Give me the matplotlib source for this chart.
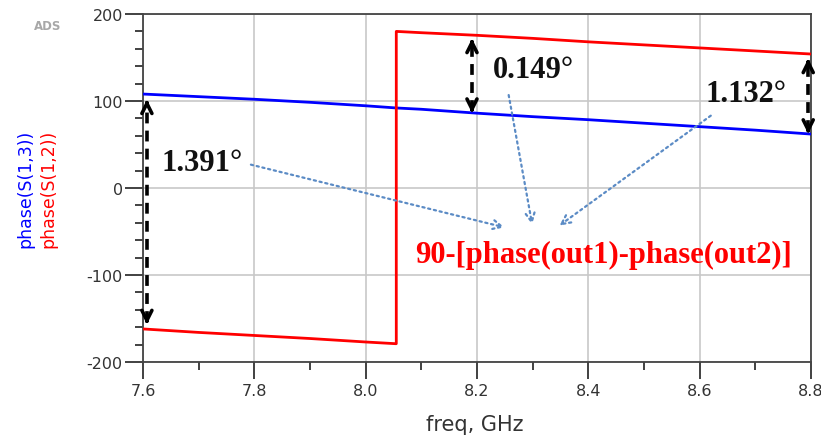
import matplotlib
matplotlib.use("Agg")
import matplotlib.pyplot as plt
import numpy as np

# ---- data ----
freq = [7.6, 7.7, 7.8, 7.9, 8.0, 8.055, 8.055, 8.1, 8.2, 8.3, 8.4, 8.5, 8.6, 8.7, 8.8]
phase_s13 = [108, 105, 102, 98.5, 94.5, 92, 92, 90.5, 86, 82, 78.5, 74.5, 70.5, 66.5, 62]
phase_s12 = [-162, -166, -169.5, -173, -177, -179, 180, 178.5, 175.5, 172, 168, 164.5, 161, 157.5, 154]

xticks = [7.6, 7.8, 8.0, 8.2, 8.4, 8.6, 8.8]
xtick_labels = ["7.6", "7.8", "8.0", "8.2", "8.4", "8.6", "8.8"]
yticks = [-200, -100, 0, 100, 200]
ytick_labels = ["-200", "-100", "0", "100", "200"]

# double arrows (x, top, bottom) and their labels
diff_x = [7.607, 8.191, 8.795]
diff_top = [105, 175, 152]
diff_bot = [-160, 83, 59]
diff_labels = ["1.391°", "0.149°", "1.132°"]
label_pos = [(7.634, 29, "left"), (8.302, 136, "center"), (8.683, 109, "center")]
pointer_from = [(7.789, 27.6), (8.256, 110), (8.624, 85)]
pointer_to = [(8.254, -46), (8.300, -45), (8.344, -45)]
formula = "90-[phase(out1)-phase(out2)]"

fig = plt.figure(figsize=(8.21, 4.39), dpi=100)
ax = fig.add_axes([143/821, 1-363/439, (811-143)/821, (363-15)/439])

ax.plot(freq, phase_s13, color="#0000ff", lw=2, zorder=3)
ax.plot(freq, phase_s12, color="#ff0000", lw=2, zorder=3)

ax.set_xlim(7.6, 8.8)
ax.set_ylim(-200, 200)
ax.set_xticks(xticks)
ax.set_xticklabels(xtick_labels)
ax.set_yticks(yticks)
ax.set_yticklabels(ytick_labels)
ax.set_xticks([7.7, 7.9, 8.1, 8.3, 8.5, 8.7], minor=True)
ax.set_yticks(np.arange(-200, 201, 20), minor=True)
ax.grid(True, which="major", color="#c8c8c8", lw=1.2, zorder=0)
ax.tick_params(axis="both", which="major", direction="out", color="#333333",
               labelcolor="#333333", labelsize=11.5)
ax.tick_params(axis="y", which="major", length=13, width=1.3, pad=1.5)
ax.tick_params(axis="x", which="major", length=12, width=1.3, pad=3)
ax.tick_params(axis="both", which="minor", direction="out", length=6, width=1.3, color="#333333")
for s in ax.spines.values():
    s.set_color("#444444")
    s.set_linewidth(1.3)

# black dashed double arrows
for x, t, b in zip(diff_x, diff_top, diff_bot):
    ax.plot([x, x], [b + 6, t - 6], color="black", lw=2.6, ls=(0, (3, 2)), zorder=4)
    ax.annotate("", xy=(x, t), xytext=(x, t - 12),
                arrowprops=dict(arrowstyle="->", color="black", lw=2.6, mutation_scale=18), zorder=4)
    ax.annotate("", xy=(x, b), xytext=(x, b + 12),
                arrowprops=dict(arrowstyle="->", color="black", lw=2.6, mutation_scale=18), zorder=4)

for lab, (lx, ly, ha) in zip(diff_labels, label_pos):
    ax.text(lx, ly, lab, ha=ha, va="center", fontsize=22, fontweight="bold",
            family="Liberation Serif", color="#111111", zorder=5)

for (fx, fy), (tx, ty) in zip(pointer_from, pointer_to):
    ax.annotate("", xy=(tx, ty), xytext=(fx, fy),
                arrowprops=dict(arrowstyle="->", color="#5b8bc5", lw=1.6, ls=":",
                                mutation_scale=16), zorder=4)

ax.text(8.428, -76, formula, ha="center", va="center", fontsize=22, fontweight="bold",
        family="Liberation Serif", color="#ff0000", zorder=5)

fig.text(48/821, 1-27/439, "ADS", ha="center", va="center", fontsize=8.5,
         fontweight="bold", color="#a8a8a8")
fig.text(25/821, 1-189/439, "phase(S(1,3))", rotation=90, ha="center", va="center",
         fontsize=12.5, color="#0000ff")
fig.text(48/821, 1-189/439, "phase(S(1,2))", rotation=90, ha="center", va="center",
         fontsize=12.5, color="#ff0000")
fig.text(475/821, 1-425/439, "freq, GHz", ha="center", va="center", fontsize=15,
         color="#333333")

fig.savefig("out.png", dpi=100)
